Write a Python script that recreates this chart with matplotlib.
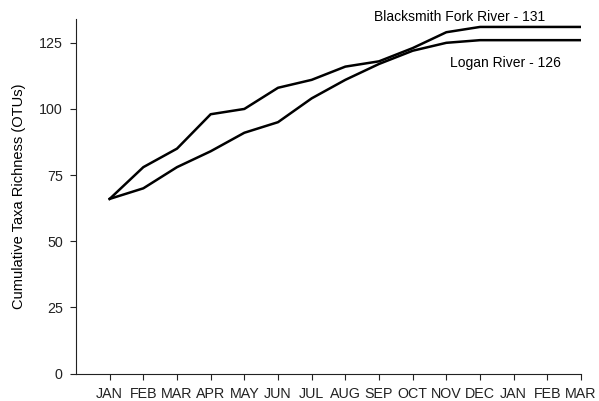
import matplotlib
matplotlib.use("Agg")
import matplotlib.pyplot as plt

# dados
meses = ["JAN", "FEB", "MAR", "APR", "MAY", "JUN", "JUL", "AUG",
         "SEP", "OCT", "NOV", "DEC", "JAN", "FEB", "MAR"]
blacksmith = [66, 78, 85, 98, 100, 108, 111, 116, 118, 123, 129, 131, 131, 131, 131]
logan = [66, 70, 78, 84, 91, 95, 104, 111, 117, 122, 125, 126, 126, 126, 126]
y_ticks = [0, 25, 50, 75, 100, 125]

plt.rcParams["font.family"] = ["Liberation Sans", "DejaVu Sans"]

fig = plt.figure(figsize=(5.99, 4.01), dpi=100)
ax = fig.add_axes([76 / 599, 1 - 373.5 / 401, (581 - 76) / 599, (373.5 - 19) / 401])

x = list(range(1, len(meses) + 1))
ax.plot(x, blacksmith, color="black", lw=1.8)
ax.plot(x, logan, color="black", lw=1.8)

ax.set_xlim(0, len(meses))
ax.set_ylim(0, 134)
ax.set_xticks(x)
ax.set_xticklabels(meses)
ax.set_yticks(y_ticks)
ax.tick_params(direction="out", length=4.5, width=0.8, labelsize=10.3, pad=5, colors="#222222")
ax.set_ylabel("Cumulative Taxa Richness (OTUs)", fontsize=10.5, labelpad=9)

for lado in ["top", "right"]:
    ax.spines[lado].set_visible(False)
for lado in ["left", "bottom"]:
    ax.spines[lado].set_color("#222222")

ax.text(11.4, 134.8, "Blacksmith Fork River - 131", fontsize=10, ha="center", va="center", clip_on=False)
ax.text(12.75, 117.4, "Logan River - 126", fontsize=10, ha="center", va="center")

fig.savefig("out.png", dpi=100)
